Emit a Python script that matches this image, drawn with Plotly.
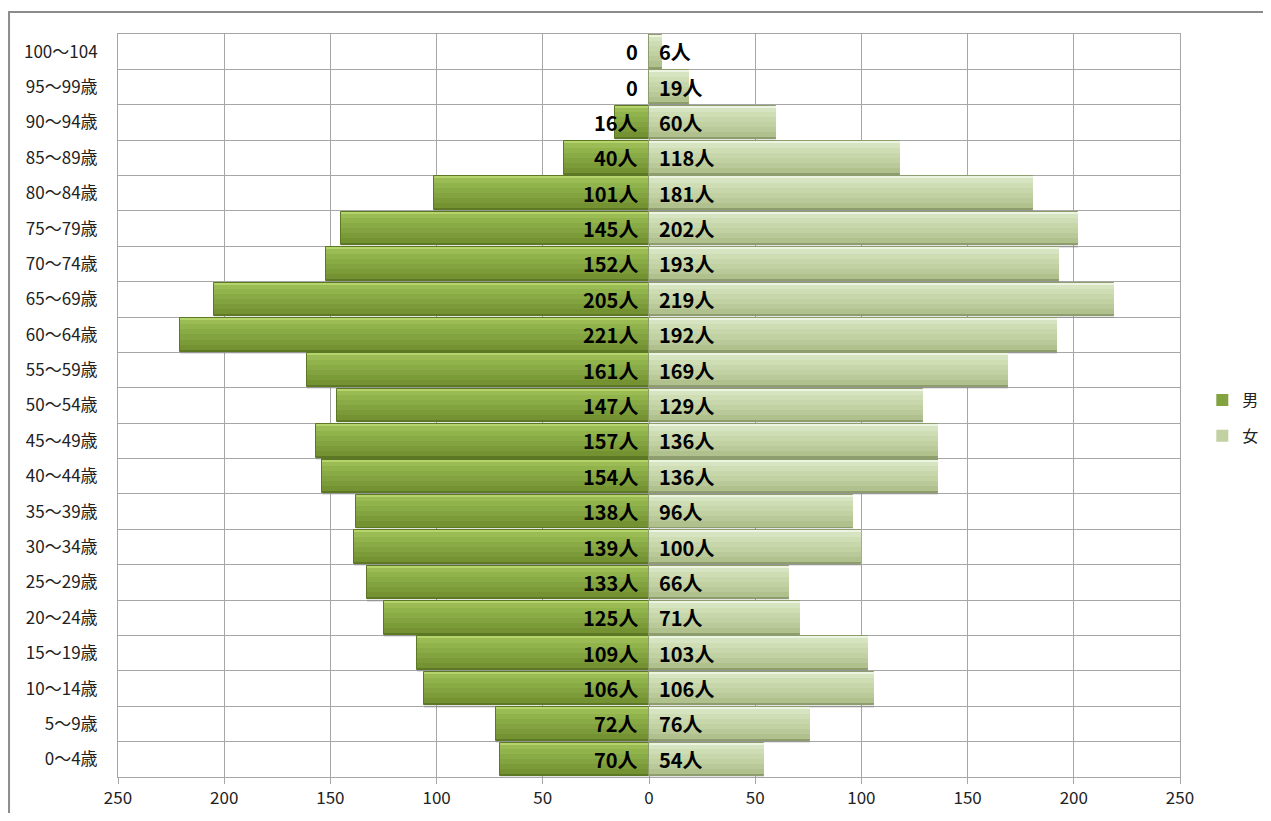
import plotly.graph_objects as go

age_labels = ["0～4歳", "5～9歳", "10～14歳", "15～19歳", "20～24歳", "25～29歳",
              "30～34歳", "35～39歳", "40～44歳", "45～49歳", "50～54歳", "55～59歳",
              "60～64歳", "65～69歳", "70～74歳", "75～79歳", "80～84歳", "85～89歳",
              "90～94歳", "95～99歳", "100～104"]
male = [70, 72, 106, 109, 125, 133, 139, 138, 154, 157, 147, 161,
        221, 205, 152, 145, 101, 40, 16, 0, 0]
female = [54, 76, 106, 103, 71, 66, 100, 96, 136, 136, 129, 169,
          192, 219, 193, 202, 181, 118, 60, 19, 6]
x_ticks = [-250, -200, -150, -100, -50, 0, 50, 100, 150, 200, 250]

FONT = "Noto Sans CJK JP"
GRID = "#a6a6a6"
TXT = "#222222"
pos = list(range(len(age_labels)))
male_neg = [-v for v in male]

fig = go.Figure()


def bar(xvals, lo, hi, color, group, name=None, show=False, line=None):
    fig.add_trace(go.Bar(y=pos, x=xvals, orientation="h", base=0,
                         width=hi - lo, offset=lo,
                         marker=dict(color=color, line=line or dict(width=0)),
                         name=name, showlegend=show, legendgroup=group,
                         hoverinfo="skip"))


def layers(xvals, name, dark, light, grad):
    bar(xvals, -0.54, 0.40, "rgba(0,0,0,0.10)", name)              # soft shadow
    bar(xvals, -0.475, 0.475, dark, name, line=dict(width=1, color=dark))  # dark edge
    n = len(grad)
    lo, hi = -0.42, 0.43
    step = (hi - lo) / n
    for k, c in enumerate(grad):
        top = hi - k * step
        bot = top - step
        bar(xvals, bot, top + 0.002, c, name, name=name, show=(k == n // 2))
    bar(xvals, 0.43, 0.468, light, name)                          # top highlight


layers(male_neg, "男", "#5d7825", "#b5d46c",
       ["#9bbb55", "#91b34c", "#89ab45", "#82a33f", "#7b9b38", "#749232"])
layers(female, "女", "#8d9d6e", "#eef4e2",
       ["#d7e4c2", "#cfddb5", "#c8d7ab", "#c1d1a2", "#bac999", "#b1c18e"])

annotations = []
for i, (m, f) in enumerate(zip(male, female)):
    mt = "0" if m == 0 else f"{m}人"
    ft = "0" if f == 0 else f"{f}人"
    annotations.append(dict(x=0, y=pos[i], xref="x", yref="y", text=f"<b>{mt}</b>",
                            showarrow=False, xanchor="right", yanchor="middle", xshift=-9,
                            font=dict(family=FONT, size=20, color="#000000")))
    annotations.append(dict(x=0, y=pos[i], xref="x", yref="y", text=f"<b>{ft}</b>",
                            showarrow=False, xanchor="left", yanchor="middle", xshift=8,
                            font=dict(family=FONT, size=20, color="#000000")))

fig.update_layout(
    width=1255, height=805,
    margin=dict(l=110, r=83, t=26, b=36, autoexpand=False),
    barmode="overlay",
    paper_bgcolor="white", plot_bgcolor="white",
    font=dict(family=FONT, size=17, color=TXT),
    annotations=annotations,
    legend=dict(x=1.021, y=0.483, xanchor="left", yanchor="middle",
                font=dict(family=FONT, size=16, color=TXT),
                traceorder="grouped", itemwidth=30, tracegroupgap=12,
                bgcolor="rgba(0,0,0,0)"),
    shapes=[dict(type="rect", xref="paper", yref="paper",
                 x0=-0.1026, x1=1.2, y0=-0.2, y1=1.0296,
                 line=dict(color="#8c8c8c", width=2), fillcolor="rgba(0,0,0,0)",
                 layer="below")],
    bargap=0,
)

fig.update_xaxes(range=[-250, 250], tickvals=x_ticks, ticktext=[str(abs(v)) for v in x_ticks],
                 showgrid=True, gridcolor=GRID, gridwidth=1,
                 zeroline=True, zerolinecolor=GRID, zerolinewidth=1,
                 showline=True, linecolor=GRID, linewidth=1, mirror=True,
                 ticks="outside", ticklen=6, tickcolor=GRID,
                 tickfont=dict(family=FONT, size=17, color=TXT), fixedrange=True)
fig.update_yaxes(range=[-0.5, len(age_labels) - 0.5], tickvals=pos, ticktext=age_labels,
                 showgrid=False, zeroline=False,
                 showline=True, linecolor=GRID, linewidth=1, mirror=True,
                 ticks="", ticklabelstandoff=16,
                 minor=dict(tickmode="linear", tick0=-0.5, dtick=1, showgrid=True,
                            gridcolor=GRID, gridwidth=1, ticks=""),
                 tickfont=dict(family=FONT, size=17, color=TXT), fixedrange=True)

fig.write_html("out.html")
